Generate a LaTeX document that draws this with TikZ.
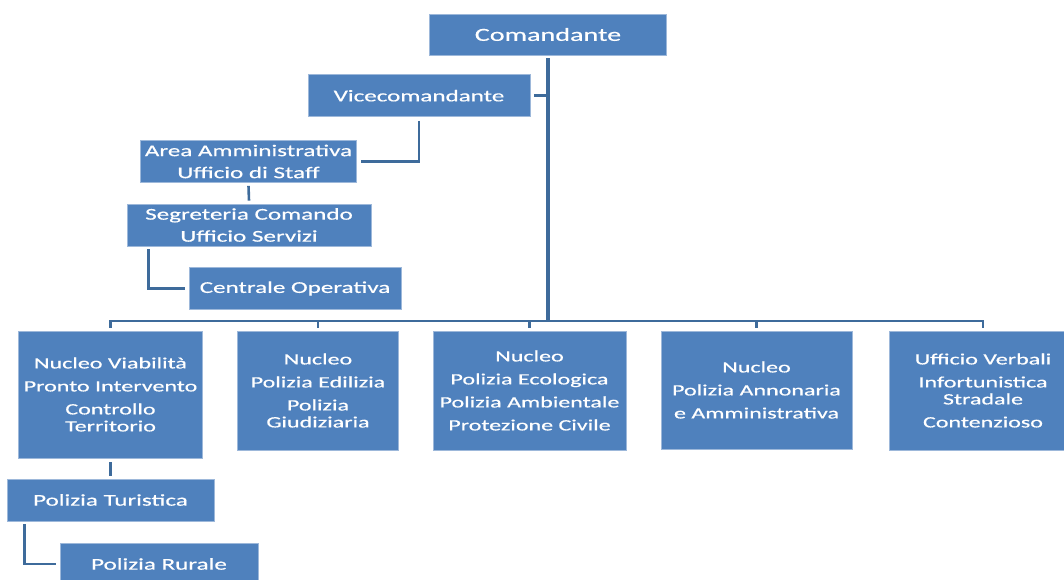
\documentclass[tikz,border=0pt]{standalone}
\usepackage{fontspec}
\setmainfont{Carlito}[FakeStretch=1.52, FakeBold=0.5]
\definecolor{boxblue}{HTML}{4F81BD}
\definecolor{linkblue}{HTML}{3E6B9B}
\definecolor{boxedge}{HTML}{9DB8DA}

\begin{document}
\begin{tikzpicture}[x=1pt, y=-1pt,
    box/.style={fill=boxblue, draw=boxedge, line width=0.6pt, text=white, align=center, inner sep=0pt,
      font=\fontsize{16.5}{17}\selectfont},
    small/.style={font=\fontsize{15.8}{17}\selectfont},
    link/.style={draw=linkblue, line width=2.6pt}]
    \useasboundingbox (0, 0) rectangle (1064, 580);
    % top of the chart
    \node[box, minimum width=237pt, minimum height=41pt, font=\fontsize{18.5}{20}\selectfont] (com) at (548, 34.5) {Comandante};
    \node[box, minimum width=222pt, minimum height=42pt] (vc) at (419, 95.7) {Vicecomandante};
    \node[box, minimum width=216pt, minimum height=42pt] (aa) at (248.5, 161.5) {Area Amministrativa\\[5pt]Ufficio di Staff};
    \node[box, minimum width=244pt, minimum height=42pt] (sc) at (249, 225) {Segreteria Comando\\[5pt]Ufficio Servizi};
    \node[box, minimum width=212pt, minimum height=42pt] (co) at (295, 288.5) {Centrale Operativa};
    % the nuclei
    \node[box, small, minimum width=184pt, minimum height=127pt] (nv) at (110.5, 394.5) {Nucleo Viabilità\\[6pt]Pronto Intervento\\[6pt]Controllo\\Territorio};
    \node[box, small, minimum width=161pt, minimum height=119pt] (pe) at (318, 390.5) {Nucleo\\[6pt]Polizia Edilizia\\[6pt]Polizia\\Giudiziaria};
    \node[box, small, minimum width=193pt, minimum height=119pt] (pa) at (529.5, 390.5) {Nucleo\\[6pt]Polizia Ecologica\\[6pt]Polizia Ambientale\\[6pt]Protezione Civile};
    \node[box, small, minimum width=191pt, minimum height=118pt] (an) at (756.5, 390) {Nucleo\\[6pt]Polizia Annonaria\\[6pt]e Amministrativa};
    \node[box, small, minimum width=188pt, minimum height=119pt] (uv) at (983, 390.5) {Ufficio Verbali\\[6pt]Infortunistica\\Stradale\\[6pt]Contenzioso};
    \node[box, minimum width=207pt, minimum height=42pt] (pt) at (110.5, 500) {Polizia Turistica};
    \node[box, minimum width=198pt, minimum height=42pt] (pr) at (159, 564) {Polizia Rurale};
    % connectors
    \coordinate (bus) at (548, 321);
    \draw[link, line width=3.6pt] ([yshift=-3pt]com.south) -- ([yshift=-1pt]bus);
    \draw[link] ([xshift=4pt]vc.east) -- (vc.east -| com.south);
    \draw[link] ([yshift=-4pt]vc.south) |- ([xshift=4pt]aa.east);
    \draw[link] ([yshift=-3pt]aa.south) -- ([yshift=3pt]sc.north);
    \draw[link] ([xshift=22pt, yshift=-3pt]sc.south west) |- ([xshift=-4pt]co.west);
    \draw[link] ([yshift=3pt]nv.north) |- (bus) -| ([yshift=3pt]uv.north);
    \foreach \n in {pe, pa, an}
      \draw[link] (\n.north |- bus) -- ([yshift=3pt]\n.north);
    \draw[link] ([yshift=-4pt]nv.south) -- ([yshift=3pt]pt.north);
    \draw[link] ([xshift=18pt, yshift=-3pt]pt.south west) |- ([xshift=-4pt]pr.west);
  \end{tikzpicture}
\end{document}
